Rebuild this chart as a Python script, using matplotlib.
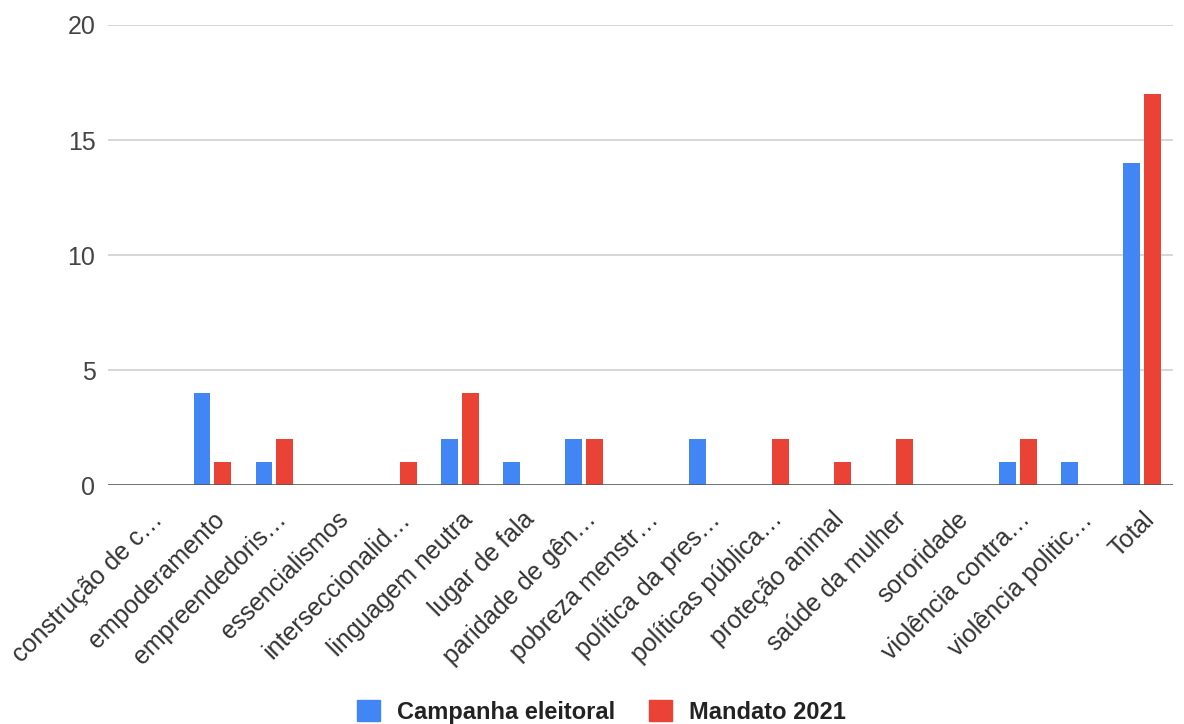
import matplotlib
matplotlib.use("Agg")
import matplotlib.pyplot as plt
import numpy as np
from matplotlib.patches import Patch

categories = ["construção de c…", "empoderamento", "empreendedoris…", "essencialismos",
              "interseccionalid…", "linguagem neutra", "lugar de fala", "paridade de gên…",
              "pobreza menstr…", "política da pres…", "políticas pública…", "proteção animal",
              "saúde da mulher", "sororidade", "violência contra…", "violência politic…", "Total"]
campanha = [0, 4, 1, 0, 0, 2, 1, 2, 0, 2, 0, 0, 0, 0, 1, 1, 14]
mandato = [0, 1, 2, 0, 1, 4, 0, 2, 0, 0, 2, 1, 2, 0, 2, 0, 17]
series_names = ["Campanha eleitoral", "Mandato 2021"]
colors = ["#4285F4", "#EA4335"]
yticks = [0, 5, 10, 15, 20]

plt.rcParams['font.family'] = ['Liberation Sans', 'DejaVu Sans']

fig = plt.figure(figsize=(11.84, 7.24), dpi=100)
ax = fig.add_axes([0.0912, 0.330, 0.8995, 0.6355])

x = np.arange(len(categories))
w = 0.27
ax.bar(x - 0.165, campanha, width=w, color=colors[0], linewidth=0, zorder=3)
ax.bar(x + 0.165, mandato, width=w, color=colors[1], linewidth=0, zorder=3)

ax.set_ylim(0, 20)
ax.set_xlim(-0.68, 16.5)
ax.set_yticks(yticks)
ax.set_yticklabels([str(t) for t in yticks], fontsize=18, color="#444444")
ax.yaxis.grid(True, color="#d0d0d0", linewidth=1.2, zorder=0)
ax.axhline(0, color="#555555", linewidth=1.8, zorder=4)
ax.tick_params(axis='y', length=0, pad=9)
ax.tick_params(axis='x', length=0, pad=16)
ax.set_xticks(x)
ax.set_xticklabels(categories, rotation=45, ha='right', rotation_mode='anchor',
                   fontsize=18, color="#333333")
for s in ax.spines.values():
    s.set_visible(False)

handles = [Patch(facecolor=c, edgecolor=c) for c in colors]
leg = fig.legend(handles, series_names, loc='center', bbox_to_anchor=(0.508, 0.017),
                 ncol=2, frameon=False, prop={'weight': 'bold', 'size': 17},
                 handlelength=1.0, handleheight=1.0, columnspacing=1.4, handletextpad=0.72)
for t in leg.get_texts():
    t.set_color("#222222")

fig.savefig("out.png", dpi=100)
